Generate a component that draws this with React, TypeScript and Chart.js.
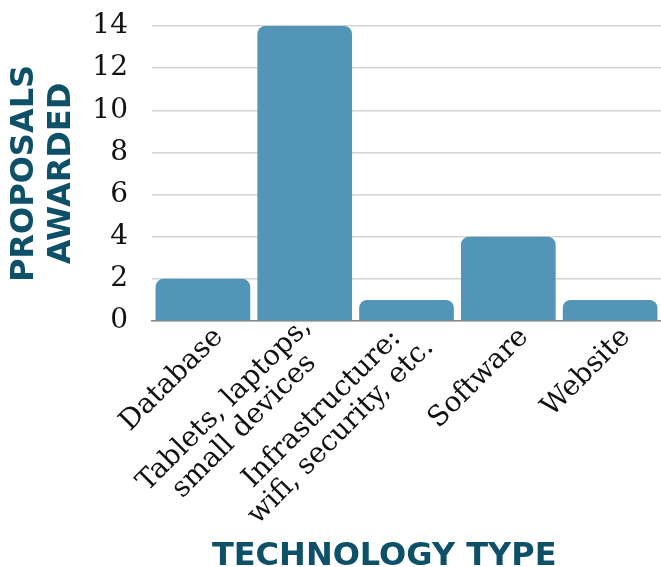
import React, { useEffect, useRef } from "react";
import { Chart, registerables } from "chart.js";

Chart.register(...registerables);

const categories: (string | string[])[] = [
  "Database",
  ["Tablets, laptops,", "small devices"],
  ["Infrastructure:", "wifi, security, etc."],
  "Software",
  "Website",
];
const proposalsAwarded = [2, 14, 1, 4, 1];
const yTickValues = [0, 2, 4, 6, 8, 10, 12, 14];

const BAR_COLOR = "#5395b7";
const TITLE_COLOR = "#0d5068";
const SERIF = "'DejaVu Serif', 'Liberation Serif', serif";
const SANS = "'DejaVu Sans', 'Open Sans', sans-serif";
const X_LABEL_SIZE = 28;
const X_LINE_HEIGHT = 1.05;

// Chart.js right-aligns rotated multi-line labels and hangs them below the
// tick; the reference centres the lines on each other and on the tick.
function centreLines(label: string | string[]): string[] {
  if (!Array.isArray(label)) return ["", label];
  const c = document.createElement("canvas").getContext("2d");
  if (!c) return label;
  c.font = `${X_LABEL_SIZE}px ${SERIF}`;
  const widths = label.map((l) => c.measureText(l).width);
  const max = Math.max(...widths);
  const thin = c.measureText("\u2009").width || 5;
  return label.map((l, i) => {
    const n = Math.round((max - widths[i]) / 2 / thin);
    return l + "\u2009".repeat(n);
  });
}

export default function App() {
  const ref = useRef<HTMLCanvasElement | null>(null);

  useEffect(() => {
    if (!ref.current) return;
    const chart = new Chart(ref.current, {
      type: "bar",
      data: {
        labels: categories.map(centreLines),
        datasets: [
          {
            data: proposalsAwarded,
            backgroundColor: BAR_COLOR,
            borderRadius: 8,
            borderSkipped: "start",
            barPercentage: 0.93,
            categoryPercentage: 1,
          },
        ],
      },
      options: {
        animation: false,
        responsive: false,
        maintainAspectRatio: false,
        layout: { padding: { left: 6, right: 0, top: 26, bottom: 0 } },
        plugins: {
          legend: { display: false },
          tooltip: { enabled: false },
        },
        scales: {
          x: {
            grid: { display: false, drawTicks: false },
            border: { display: true, color: "#888888", width: 1.5 },
            afterFit: (axis: any) => {
              axis.height = 246;
              axis.paddingLeft = 0;
              axis.paddingRight = 0;
            },
            ticks: {
              color: "#111111",
              font: (ctx: any) => ({
                family: SERIF,
                size: X_LABEL_SIZE,
                lineHeight: Array.isArray(categories[ctx.index]) ? X_LINE_HEIGHT : (X_LINE_HEIGHT * 2) / 3,
              }),
              minRotation: 45,
              maxRotation: 45,
              padding: -9,
              labelOffset: 2,
              autoSkip: false,
            },
            title: {
              display: true,
              text: "TECHNOLOGY TYPE\u00a0\u00a0\u00a0\u00a0",
              color: TITLE_COLOR,
              font: { family: SANS, size: 32, weight: "bold" },
              padding: { top: 4, bottom: -9 },
            },
          },
          y: {
            min: 0,
            max: 14,
            afterBuildTicks: (axis: any) => {
              axis.ticks = yTickValues.map((v) => ({ value: v }));
            },
            afterFit: (axis: any) => {
              axis.width = 146;
              axis.paddingTop = 0;
              axis.paddingBottom = 0;
            },
            grid: { color: "#d3d3d3", lineWidth: 1.5, drawTicks: false },
            border: { display: false },
            ticks: {
              color: "#111111",
              font: { family: SERIF, size: 28 },
              padding: 24,
            },
            title: {
              display: true,
              text: ["PROPOSALS", "AWARDED"],
              color: TITLE_COLOR,
              font: { family: SANS, size: 32, weight: "bold", lineHeight: 1.16 },
              padding: { top: 0, bottom: 0 },
            },
          },
        },
      },
    });
    return () => chart.destroy();
  }, []);

  return (
    <div style={{ position: "absolute", left: 0, top: 0, width: 661, height: 567, background: "#ffffff" }}>
      <canvas ref={ref} width={661} height={567} style={{ width: 661, height: 567 }} />
    </div>
  );
}
